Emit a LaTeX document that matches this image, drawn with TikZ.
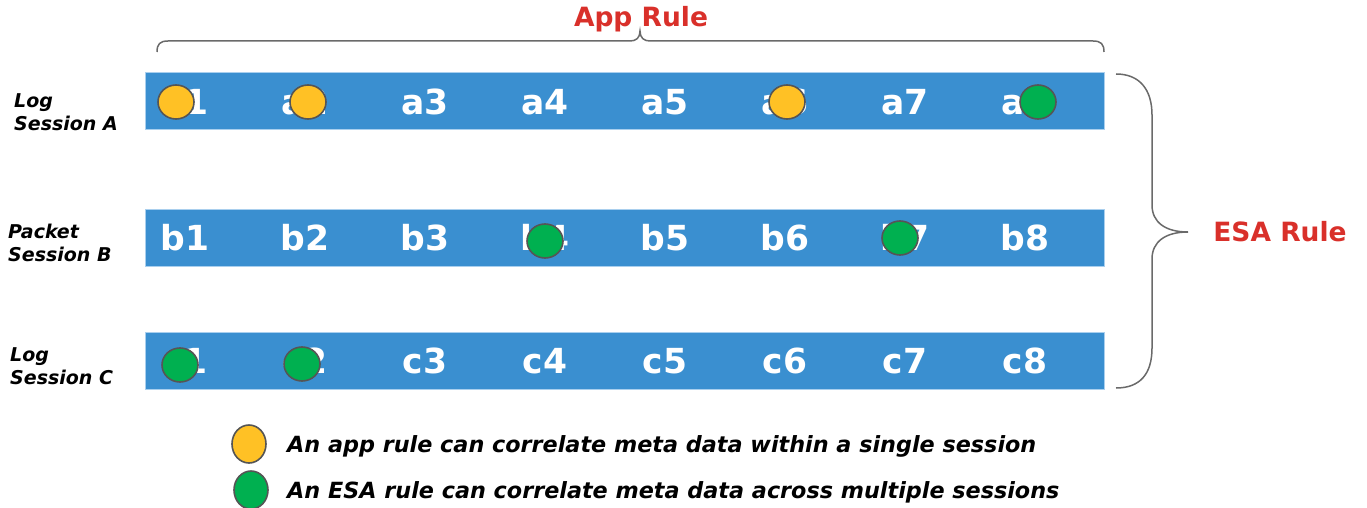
\documentclass[tikz,border=0pt]{standalone}
\usepackage{fontspec}
\setmainfont{DejaVu Sans}
\usetikzlibrary{shapes.geometric}
\definecolor{barblue}{HTML}{3A8FD0}
\definecolor{baredge}{HTML}{A9CFEE}
\definecolor{rulered}{HTML}{D9302A}
\definecolor{bracegray}{HTML}{6A6A6A}
\definecolor{dotyellow}{HTML}{FFC125}
\definecolor{dotgreen}{HTML}{00B050}
\definecolor{dotedge}{HTML}{555555}
\tikzset{
  bar/.style={draw=baredge, line width=1pt, fill=barblue, minimum width=959pt, minimum height=57pt, inner sep=0pt},
  cell/.style={text=white, font=\fontsize{34.5}{34.5}\selectfont\bfseries, inner sep=0pt},
  sess/.style={anchor=west, align=left, font=\fontsize{19}{23}\selectfont\bfseries\itshape, inner sep=0pt},
  dot/.style={ellipse, draw=dotedge, line width=1.6pt, minimum width=36pt, minimum height=34pt, inner sep=0pt},
  ydot/.style={dot, fill=dotyellow},
  gdot/.style={dot, fill=dotgreen},
  legdot/.style={minimum width=34pt, minimum height=38pt},
  legtext/.style={anchor=west, font=\fontsize{22.3}{22.3}\selectfont\bfseries\itshape, inner sep=0pt},
  rulelabel/.style={text=rulered, font=\fontsize{26.5}{26.5}\selectfont\bfseries, inner sep=0pt},
  bracestyle/.style={draw=bracegray, line width=1.5pt}
}
\begin{document}
\begin{tikzpicture}[x=1pt,y=-1pt]
\useasboundingbox (0,0) rectangle (1367,508);
% bars
\node[bar] (barA) at (624.5,101.5) {};
\node[bar] (barB) at (624.5,238) {};
\node[bar] (barC) at (624.5,361) {};
% cells
\foreach \i in {1,...,8} {
  \node[cell] (a\i) at ({185+120*(\i-1)},102) {a\i};
  \node[cell] (b\i) at ({185+120*(\i-1)},238) {b\i};
  \node[cell] (c\i) at ({185+120*(\i-1)},361) {c\i};
}
% session labels
\node[sess] (labA) at (14,112) {Log\\Session A};
\node[sess] (labB) at (8,243) {Packet\\Session B};
\node[sess] (labC) at (10,366) {Log\\Session C};
% dots
\node[ydot] (dA1) at (176,102) {};
\node[ydot] (dA2) at (308,102) {};
\node[ydot] (dA6) at (787,102) {};
\node[gdot] (dA8) at (1038,102) {};
\node[gdot] (dB4) at (545,241) {};
\node[gdot] (dB7) at (900,238) {};
\node[gdot] (dC1) at (180,365) {};
\node[gdot] (dC2) at (302,364) {};
% rule labels
\node[rulelabel] (app) at (641,19) {App Rule};
\node[rulelabel] (esa) at (1280,232) {ESA Rule};
% top brace
\draw[bracestyle] (157,52) .. controls (157,44) and (160,41) .. (168,41) -- (630,41)
  .. controls (636,41) and (640,38) .. (640,31)
  .. controls (640,38) and (644,41) .. (650,41) -- (1093,41)
  .. controls (1101,41) and (1104,44) .. (1104,52);
% right brace
\draw[bracestyle] (1116,74) .. controls (1140,74) and (1152,90) .. (1152,115) -- (1152,205)
  .. controls (1152,222) and (1165,232) .. (1188,232)
  .. controls (1165,232) and (1152,242) .. (1152,259) -- (1152,348)
  .. controls (1152,374) and (1140,388) .. (1116,388);
% legend
\node[ydot, legdot] (legY) at (249,444) {};
\node[gdot, legdot] (legG) at (251,490) {};
\node[legtext] (legYt) at (287,446) {An app rule can correlate meta data within a single session};
\node[legtext] (legGt) at (287,492) {An ESA rule can correlate meta data across multiple sessions};
\end{tikzpicture}
\end{document}
